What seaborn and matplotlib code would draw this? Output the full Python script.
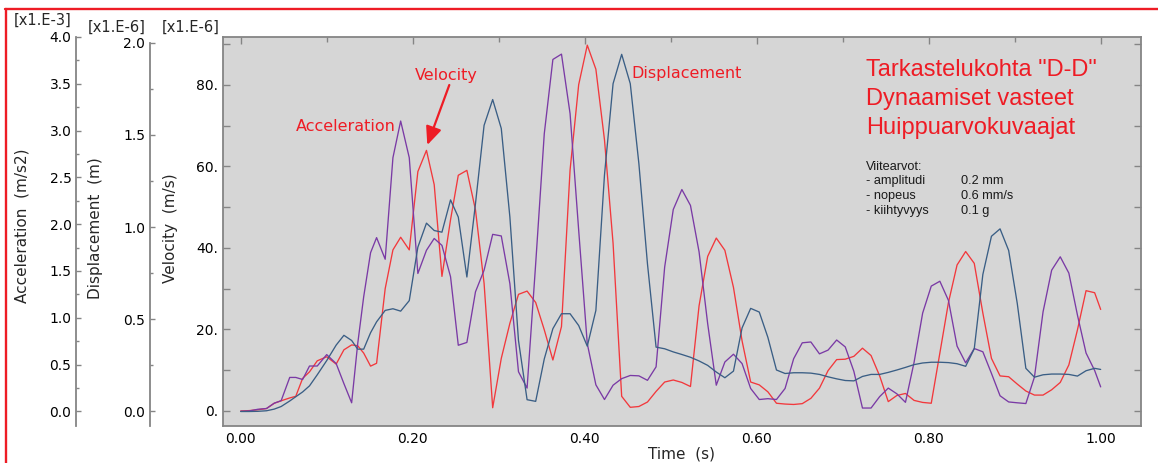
import matplotlib
matplotlib.use("Agg")
import matplotlib.pyplot as plt
from matplotlib.ticker import MultipleLocator, FuncFormatter, FormatStrFormatter
from matplotlib.lines import Line2D
import pandas as pd
import seaborn as sns

# Output frames of the transient analysis (s)
time = [0.000, 0.010, 0.020, 0.030, 0.039, 0.047, 0.057, 0.064, 0.072, 0.080,
        0.089, 0.100, 0.111, 0.120, 0.129, 0.136, 0.143, 0.151, 0.158, 0.168,
        0.177, 0.186, 0.196, 0.206, 0.216, 0.225, 0.234, 0.244, 0.253,
        0.263, 0.273, 0.283, 0.293, 0.303, 0.313, 0.323, 0.333, 0.343, 0.353,
        0.363, 0.373, 0.383, 0.393, 0.403, 0.413, 0.423, 0.433, 0.443, 0.453,
        0.463, 0.473, 0.483, 0.493, 0.503, 0.513, 0.523, 0.533, 0.543, 0.553,
        0.563, 0.573, 0.583, 0.593, 0.603, 0.613, 0.623, 0.633, 0.643, 0.653,
        0.663, 0.673, 0.683, 0.693, 0.703, 0.713, 0.723, 0.733, 0.743, 0.753,
        0.763, 0.773, 0.783, 0.793, 0.803, 0.813, 0.823, 0.833, 0.843, 0.853,
        0.863, 0.873, 0.883, 0.893, 0.903, 0.913, 0.923, 0.933, 0.943, 0.953,
        0.963, 0.973, 0.983, 0.993, 1.000]

# Peak velocity envelope, x1e-6 m/s
velocity = [0.0, 0.1, 0.3, 0.6, 1.9, 2.5, 3.2, 3.6, 8.0, 9.6,
            12.3, 13.3, 11.5, 15.0, 16.2, 16.0, 14.2, 11.0, 11.7, 30.0,
            39.5, 42.6, 39.5, 58.7, 63.9, 55.5, 33.0, 46.9, 57.8, 59.0,
            49.3, 31.3, 0.8, 12.9, 21.5, 28.6, 29.4, 26.6, 19.9, 12.5,
            20.7, 59.1, 80.0, 89.7, 83.8, 66.5, 41.1, 3.6, 0.9, 1.1,
            2.2, 4.8, 7.1, 7.6, 7.0, 6.0, 25.8, 37.9, 42.4, 39.4,
            30.3, 17.2, 7.1, 6.4, 4.7, 1.9, 1.7, 1.6, 1.8, 3.1,
            5.6, 9.9, 12.6, 12.7, 13.4, 15.4, 13.6, 8.6, 2.3, 3.8,
            4.3, 2.6, 2.1, 1.9, 14.2, 26.6, 35.8, 39.1, 36.2, 24.0,
            12.9, 8.6, 8.4, 6.6, 4.9, 3.9, 3.9, 5.2, 7.0, 11.3,
            19.9, 29.5, 29.0, 24.9]

# Peak acceleration envelope, x1e-3 m/s2
acceleration = [0.000, 0.004, 0.022, 0.030, 0.087, 0.113, 0.362, 0.362, 0.340, 0.484,
                0.484, 0.606, 0.510, 0.296, 0.091, 0.719, 1.224, 1.695, 1.856, 1.625,
                2.710, 3.102, 2.710, 1.473, 1.721, 1.847, 1.773, 1.438, 0.706, 0.736,
                1.277, 1.508, 1.891, 1.874, 1.364, 0.423, 0.248, 1.577, 2.967, 3.760,
                3.817, 3.181, 1.935, 0.723, 0.283, 0.126, 0.279, 0.349, 0.383, 0.379,
                0.331, 0.475, 1.542, 2.157, 2.370, 2.200, 1.704, 0.937, 0.279, 0.527,
                0.610, 0.510, 0.244, 0.126, 0.135, 0.126, 0.244, 0.562, 0.732, 0.741,
                0.614, 0.654, 0.762, 0.688, 0.427, 0.035, 0.035, 0.157, 0.248, 0.187,
                0.096, 0.523, 1.050, 1.338, 1.390, 1.185, 0.697, 0.518, 0.671, 0.636,
                0.405, 0.166, 0.100, 0.091, 0.083, 0.366, 1.063, 1.508, 1.651, 1.477,
                1.028, 0.623, 0.436, 0.261]

# Peak displacement envelope, x1e-6 m
displacement = [0.000, 0.000, 0.001, 0.004, 0.013, 0.027, 0.057, 0.080, 0.106, 0.139,
                0.199, 0.276, 0.360, 0.413, 0.385, 0.338, 0.338, 0.427, 0.486, 0.548,
                0.557, 0.544, 0.601, 0.891, 1.021, 0.981, 0.972, 1.147, 1.054, 0.729,
                1.127, 1.551, 1.691, 1.534, 1.054, 0.385, 0.064, 0.055, 0.285, 0.449,
                0.530, 0.530, 0.466, 0.354, 0.548, 1.282, 1.777, 1.936, 1.777, 1.344,
                0.800, 0.349, 0.340, 0.323, 0.309, 0.294, 0.274, 0.250, 0.214, 0.183,
                0.219, 0.453, 0.559, 0.539, 0.402, 0.225, 0.206, 0.210, 0.210, 0.208,
                0.201, 0.188, 0.177, 0.168, 0.166, 0.190, 0.201, 0.201, 0.212, 0.225,
                0.239, 0.254, 0.263, 0.267, 0.267, 0.265, 0.259, 0.245, 0.340, 0.743,
                0.950, 0.990, 0.873, 0.586, 0.234, 0.186, 0.199, 0.203, 0.203, 0.201,
                0.192, 0.221, 0.234, 0.228]

title_lines = ['Tarkastelukohta "D-D"', "Dynaamiset vasteet", "Huippuarvokuvaajat"]
ref_names = ["- amplitudi", "- nopeus", "- kiihtyvyys"]
ref_values = ["0.2 mm", "0.6 mm/s", "0.1 g"]

W, H = 1158, 463


def fx(px):
    return px / W


def fy(py):
    return 1 - py / H


sns.set_theme(style="white", context="notebook")
plt.rcParams["font.family"] = ["DejaVu Sans"]

GRAY = "#858585"
RED_TXT = "#ee1c25"
RED = "#f2383c"
PURPLE = "#7a3aa5"
BLUE = "#3a5e85"
ARIAL = ["Liberation Sans", "DejaVu Sans"]

fig = plt.figure(figsize=(W / 100, H / 100), dpi=100, facecolor="white")
left, right, top, bottom = 223, 1141, 37, 426
ax = fig.add_axes([fx(left), fy(bottom), (right - left) / W, (bottom - top) / H])
ax.set_facecolor("#d6d6d6")

df = pd.DataFrame({"time": time, "velocity": velocity,
                   "acceleration": acceleration, "displacement": displacement})

sns.lineplot(data=df, x="time", y="velocity", ax=ax, color=RED, linewidth=0.95)
ax_acc = ax.twinx()
ax_disp = ax.twinx()
sns.lineplot(data=df, x="time", y="acceleration", ax=ax_acc, color=PURPLE, linewidth=0.95)
sns.lineplot(data=df, x="time", y="displacement", ax=ax_disp, color=BLUE, linewidth=0.95)

ax.set_xlim(-0.0206, 1.0469)
ax.set_ylim(-3.68, 91.7)
ax_acc.set_ylim(-0.157, 4.0)
ax_disp.set_ylim(-0.0786, 2.03)

# main frame: time axis and velocity scale
for s in ax.spines.values():
    s.set_color(GRAY)
    s.set_linewidth(1.3)
ax.xaxis.set_major_locator(MultipleLocator(0.2))
ax.xaxis.set_minor_locator(MultipleLocator(0.1))
ax.yaxis.set_major_locator(MultipleLocator(20))
ax.yaxis.set_minor_locator(MultipleLocator(10))
ax.xaxis.set_major_formatter(FormatStrFormatter("%.2f"))
ax.yaxis.set_major_formatter(FuncFormatter(lambda v, p: f"{v:.0f}."))
ax.tick_params(axis="both", which="both", direction="in", top=True, right=True,
               color=GRAY, width=1.0, labelsize=10, labelcolor="black")
ax.tick_params(axis="x", which="major", length=5, pad=4)
ax.tick_params(axis="x", which="minor", length=3.8)
ax.tick_params(axis="y", which="both", length=4.8, pad=3.5)
ax.set_xlabel("")
ax.set_ylabel("")

# detached scales for acceleration and displacement
for a, pos in ((ax_acc, -0.1598), (ax_disp, -0.0795)):
    for side in ("right", "top", "bottom"):
        a.spines[side].set_visible(False)
    a.spines["left"].set_visible(True)
    a.spines["left"].set_position(("axes", pos))
    a.spines["left"].set_color(GRAY)
    a.spines["left"].set_linewidth(1.3)
    a.yaxis.set_ticks_position("left")
    a.yaxis.set_label_position("left")
    a.yaxis.set_major_locator(MultipleLocator(0.5))
    a.yaxis.set_minor_locator(MultipleLocator(0.25))
    a.yaxis.set_major_formatter(FormatStrFormatter("%.1f"))
    a.tick_params(axis="y", which="both", direction="in", color=GRAY, width=1.0,
                  labelsize=10, labelcolor="black", pad=3.5)
    a.tick_params(axis="y", which="major", length=3.8)
    a.tick_params(axis="y", which="minor", length=2.2)
    a.set_ylabel("")
ax_disp.spines["left"].set_bounds(-0.0786, 2.0)

# axis titles and scale multipliers
fig.text(fx(22), fy(226), "Acceleration  (m/s2)", rotation=90, ha="center", va="center", fontsize=11)
fig.text(fx(95.5), fy(228), "Displacement  (m)", rotation=90, ha="center", va="center", fontsize=11)
fig.text(fx(170.5), fy(228), "Velocity  (m/s)", rotation=90, ha="center", va="center", fontsize=11)
fig.text(fx(681), fy(454), "Time  (s)", ha="center", va="center", fontsize=11)
fig.text(fx(42.2), fy(20), "[x1.E-3]", ha="center", va="center", fontsize=10.5)
fig.text(fx(116.5), fy(27), "[x1.E-6]", ha="center", va="center", fontsize=10.5)
fig.text(fx(190.3), fy(27), "[x1.E-6]", ha="center", va="center", fontsize=10.5)

# curve captions
fig.text(fx(296), fy(130.7), "Acceleration", color=RED_TXT, fontsize=11.5, ha="left", va="baseline")
fig.text(fx(415), fy(80), "Velocity", color=RED_TXT, fontsize=11.5, ha="left", va="baseline")
fig.text(fx(631.7), fy(78.3), "Displacement", color=RED_TXT, fontsize=11.5, ha="left", va="baseline")
ax.annotate("", xy=(427.3, H - 145), xycoords="figure pixels",
            xytext=(449.3, H - 85), textcoords="figure pixels",
            arrowprops=dict(arrowstyle="-|>,head_length=0.55,head_width=0.24",
                            mutation_scale=20, color=RED_TXT, lw=1.6,
                            shrinkA=0, shrinkB=0))

# heading and reference values
for i, line in enumerate(title_lines):
    fig.text(fx(866), fy(76 + 29 * i), line, color=RED_TXT, fontsize=17,
             family=ARIAL, ha="left", va="baseline")
fig.text(fx(866), fy(169.5), "Viitearvot:", color="#1a1a1a", fontsize=9.2,
         family=ARIAL, ha="left", va="baseline")
for i, (name, val) in enumerate(zip(ref_names, ref_values)):
    yb = 184 + 15 * i
    fig.text(fx(866), fy(yb), name, color="#1a1a1a", fontsize=9.2, family=ARIAL,
             ha="left", va="baseline")
    fig.text(fx(961), fy(yb), val, color="#1a1a1a", fontsize=9.2, family=ARIAL,
             ha="left", va="baseline")

# red page frame
fig.add_artist(Line2D([fx(5), 1.0], [fy(9), fy(9)], transform=fig.transFigure,
                      color=RED_TXT, lw=1.7))
fig.add_artist(Line2D([fx(6), fx(6)], [fy(9), 0.0], transform=fig.transFigure,
                      color=RED_TXT, lw=1.7))

fig.savefig("out.png", dpi=100, facecolor="white")
